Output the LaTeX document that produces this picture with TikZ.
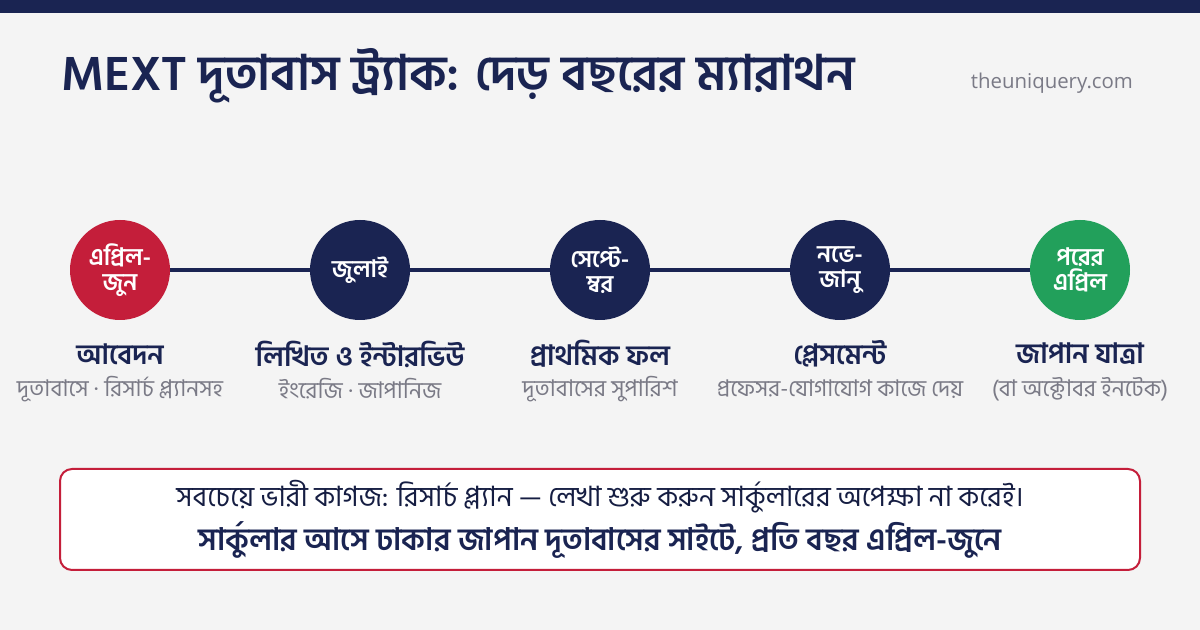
\documentclass[tikz,border=0pt]{standalone}
\usepackage{fontspec}
\setmainfont{Open Sans}
\newfontfamily\bn[Script=Bengali]{Hind Siliguri}
\definecolor{navy}{HTML}{1A2452}
\definecolor{rubyred}{HTML}{C41E3A}
\definecolor{leafgreen}{HTML}{22A05B}
\definecolor{pagebg}{HTML}{F4F4F4}
\definecolor{subgray}{HTML}{7A7A86}
\tikzset{
  stage/.style={circle,minimum size=50pt,inner sep=0,text=white,font=\bn\bfseries\fontsize{12}{12.5}\selectfont,align=center},
  stagename/.style={text=navy,font=\bn\bfseries\fontsize{14}{16}\selectfont},
  stagenote/.style={text=subgray,font=\bn\fontsize{11.5}{13}\selectfont}
}
\begin{document}
\begin{tikzpicture}[x=0.5pt,y=-0.5pt]
\fill[pagebg] (0,0) rectangle (1200,630);
\fill[navy] (0,0) rectangle (1200,13);
\useasboundingbox (0,0) rectangle (1200,630);
\node[anchor=west,text=navy,font=\bn\bfseries\fontsize{24.5}{26}\selectfont] (title) at (54,76) {MEXT দূতাবাস ট্র্যাক: দেড় বছরের ম্যারাথন};
\node[anchor=east,text=subgray,font=\fontsize{10.2}{12}\selectfont] (site) at (1140,83) {theuniquery.com};
\node[stage,fill=rubyred] (apr) at (120,270) {এপ্রিল-\\জুন};
\node[stage,fill=navy] (jul) at (360,270) {জুলাই};
\node[stage,fill=navy] (sep) at (600,270) {সেপ্টে-\\ম্বর};
\node[stage,fill=navy] (nov) at (840,270) {নভে-\\জানু};
\node[stage,fill=leafgreen] (next) at (1080,270) {পরের\\এপ্রিল};
\draw[navy,line width=2pt] (apr) -- (jul);
\draw[navy,line width=2pt] (jul) -- (sep);
\draw[navy,line width=2pt] (sep) -- (nov);
\draw[navy,line width=2pt] (nov) -- (next);
\node[stagename] (aprname) at (120,354) {আবেদন};
\node[stagenote] (aprnote) at (120,389) {দূতাবাসে · রিসার্চ প্ল্যানসহ};
\node[stagename] (julname) at (360,354) {লিখিত ও ইন্টারভিউ};
\node[stagenote] (julnote) at (360,389) {ইংরেজি · জাপানিজ};
\node[stagename] (sepname) at (600,354) {প্রাথমিক ফল};
\node[stagenote] (sepnote) at (600,389) {দূতাবাসের সুপারিশ};
\node[stagename] (novname) at (840,354) {প্লেসমেন্ট};
\node[stagenote] (novnote) at (840,389) {প্রফেসর-যোগাযোগ কাজে দেয়};
\node[stagename] (nextname) at (1080,354) {জাপান যাত্রা};
\node[stagenote] (nextnote) at (1080,389) {(বা অক্টোবর ইনটেক)};
\draw[rubyred,fill=white,line width=1pt,rounded corners=6] (60,469) rectangle (1140,570);
\node[inner sep=0,text=navy!80!black,font=\bn\fontsize{14}{16}\selectfont] (tip) at (600,497) {সবচেয়ে ভারী কাগজ: রিসার্চ প্ল্যান — লেখা শুরু করুন সার্কুলারের অপেক্ষা না করেই।};
\node[inner sep=0,text=navy,font=\bn\bfseries\fontsize{15.5}{17}\selectfont] (circular) at (600,540) {সার্কুলার আসে ঢাকার জাপান দূতাবাসের সাইটে, প্রতি বছর এপ্রিল-জুনে};
\end{tikzpicture}
\end{document}
